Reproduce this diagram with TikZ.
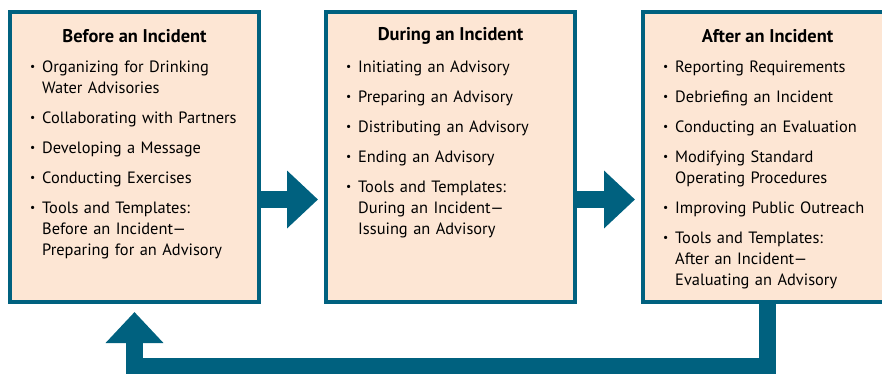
\documentclass[tikz,border=0pt]{standalone}
\usepackage{fontspec}
\setmainfont{PT Sans}
\usepackage{xcolor}
\usepackage{tikz}
\usetikzlibrary{arrows.meta,positioning,calc}

\definecolor{stageteal}{HTML}{00617F}
\definecolor{stagepeach}{HTML}{FDE6D4}

% one bullet entry, later lines hang under the text
\newcommand{\stageitem}[1]{\par\vspace{9pt}\hangindent=12pt\hangafter=1\noindent\makebox[12pt][l]{\raisebox{1.5pt}{\scalebox{0.7}{\textbullet}}}#1\par}

\begin{document}
\begin{tikzpicture}[
    x=1pt, y=1pt,
    stage/.style={rectangle, draw=stageteal, line width=4pt, fill=stagepeach, minimum width=249pt, minimum height=290pt, inner sep=0pt},
    stagetext/.style={anchor=north west, inner sep=0pt, text width=210pt, font=\fontsize{16.4}{21}\selectfont},
    stagetitle/.style={font=\fontsize{18.4}{21}\selectfont\bfseries},
    flow/.style={stageteal, line width=17pt, line join=miter, -{Triangle[width=56pt, length=31pt]}}
]
\useasboundingbox (0,0) rectangle (882,373);
\clip (0,0) rectangle (882,373);

% Stages
\node[stage] (before) at (134.5, 216) {};
\node[stage] (during) at (450.5, 216) {};
\node[stage] (after)  at (767.5, 216) {};

% Arrows
\draw[flow] ([yshift=-42.5pt]before.east) -- ([yshift=-42.5pt, xshift=-6pt]during.west);
\draw[flow] ([yshift=-42.5pt]during.east) -- ([yshift=-42.5pt, xshift=-6pt]after.west);
\draw[flow] (after.south) -- ++(0,-62.5) -| ([yshift=-8pt]before.south);

% Titles
\node[stagetitle] (beforetitle) at ([yshift=-26pt]before.north) {Before an Incident};
\node[stagetitle] (duringtitle) at ([yshift=-26pt]during.north) {During an Incident};
\node[stagetitle] (aftertitle)  at ([yshift=-26pt]after.north)  {After an Incident};

% Lists
\node[stagetext] (beforelist) at ([xshift=22pt, yshift=-32pt]before.north west) {\raggedright
    \stageitem{Organizing for Drinking\newline Water Advisories}
    \stageitem{Collaborating with Partners}
    \stageitem{Developing a Message}
    \stageitem{Conducting Exercises}
    \stageitem{Tools and Templates:\newline Before an Incident---\newline Preparing for an Advisory}};
\node[stagetext] (duringlist) at ([xshift=22pt, yshift=-32pt]during.north west) {\raggedright
    \stageitem{Initiating an Advisory}
    \stageitem{Preparing an Advisory}
    \stageitem{Distributing an Advisory}
    \stageitem{Ending an Advisory}
    \stageitem{Tools and Templates:\newline During an Incident---\newline Issuing an Advisory}};
\node[stagetext] (afterlist) at ([xshift=22pt, yshift=-32pt]after.north west) {\raggedright
    \stageitem{Reporting Requirements}
    \stageitem{Debriefing an Incident}
    \stageitem{Conducting an Evaluation}
    \stageitem{Modifying Standard\newline Operating Procedures}
    \stageitem{Improving Public Outreach}
    \stageitem{Tools and Templates:\newline After an Incident---\newline Evaluating an Advisory}};

\end{tikzpicture}
\end{document}
